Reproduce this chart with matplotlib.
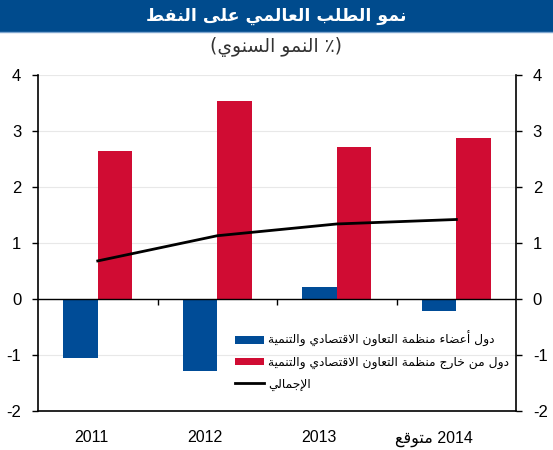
import matplotlib
matplotlib.use('Agg')
import matplotlib.pyplot as plt
import matplotlib.transforms as mtransforms
from matplotlib.patches import Rectangle
from matplotlib.lines import Line2D
import numpy as np

# Datos
years = ['2011', '2012', '2013', '2014']
oecd = [-1.05, -1.29, 0.21, -0.21]
non_oecd = [2.64, 3.54, 2.71, 2.87]
total = [0.68, 1.13, 1.34, 1.42]

title_ar = 'نمو الطلب العالمي على النفط'
subtitle_ar = 'النمو السنوي'
label_oecd = 'دول أعضاء منظمة التعاون الاقتصادي والتنمية'
label_non = 'دول من خارج منظمة التعاون الاقتصادي والتنمية'
label_total = 'الإجمالي'
forecast_ar = 'متوقع'

# Formas de presentacion arabes (aislada, final, inicial, medial)
FORMS = {
    'ء': (0xFE80, 1), 'آ': (0xFE81, 2), 'أ': (0xFE83, 2), 'ؤ': (0xFE85, 2), 'إ': (0xFE87, 2),
    'ئ': (0xFE89, 4), 'ا': (0xFE8D, 2), 'ب': (0xFE8F, 4), 'ة': (0xFE93, 2), 'ت': (0xFE95, 4),
    'ث': (0xFE99, 4), 'ج': (0xFE9D, 4), 'ح': (0xFEA1, 4), 'خ': (0xFEA5, 4), 'د': (0xFEA9, 2),
    'ذ': (0xFEAB, 2), 'ر': (0xFEAD, 2), 'ز': (0xFEAF, 2), 'س': (0xFEB1, 4), 'ش': (0xFEB5, 4),
    'ص': (0xFEB9, 4), 'ض': (0xFEBD, 4), 'ط': (0xFEC1, 4), 'ظ': (0xFEC5, 4), 'ع': (0xFEC9, 4),
    'غ': (0xFECD, 4), 'ف': (0xFED1, 4), 'ق': (0xFED5, 4), 'ك': (0xFED9, 4), 'ل': (0xFEDD, 4),
    'م': (0xFEE1, 4), 'ن': (0xFEE5, 4), 'ه': (0xFEE9, 4), 'و': (0xFEED, 2), 'ى': (0xFEEF, 2),
    'ي': (0xFEF1, 4),
}
LAM_ALEF = {'آ': 0xFEF5, 'أ': 0xFEF7, 'إ': 0xFEF9, 'ا': 0xFEFB}


def shape(text):
    units = []
    i = 0
    while i < len(text):
        c = text[i]
        if c == 'ل' and i + 1 < len(text) and text[i + 1] in LAM_ALEF:
            units.append((LAM_ALEF[text[i + 1]], 2))
            i += 2
        elif c in FORMS:
            units.append(FORMS[c])
            i += 1
        else:
            units.append((c, 0))
            i += 1
    out = []
    for k, (base, n) in enumerate(units):
        if n == 0:
            out.append(base)
            continue
        prev = k > 0 and units[k - 1][1] == 4
        nxt = n == 4 and k + 1 < len(units) and units[k + 1][1] >= 2
        if n == 1:
            code = base
        elif n == 2:
            code = base + 1 if prev else base
        else:
            if prev and nxt:
                code = base + 3
            elif prev:
                code = base + 1
            elif nxt:
                code = base + 2
            else:
                code = base
        out.append(chr(code))
    # orden visual (derecha a izquierda)
    return ''.join(out)[::-1]


plt.rcParams['font.family'] = ['Liberation Sans', 'DejaVu Sans']
plt.rcParams['axes.unicode_minus'] = False

blue = '#004C97'
red = '#D00C33'
navy = '#004B8D'

fig = plt.figure(figsize=(5.53, 4.5), dpi=100)
ax = fig.add_axes([0.0687, 0.0867, 0.8646, 0.7466])

# Barra del titulo
fig.patches.append(Rectangle((0, 0.929), 1, 0.071, transform=fig.transFigure,
                             facecolor=navy, edgecolor='none', zorder=0))
fig.lines.append(Line2D([0, 1], [0.929, 0.929], transform=fig.transFigure,
                        color='#7FA6CF', linewidth=1))
fig.text(0.5, 0.965, shape(title_ar), color='white', fontsize=12.5, fontweight='bold',
         ha='center', va='center', family=['DejaVu Sans'])
fig.text(0.5, 0.895, '(' + shape(subtitle_ar) + ' ٪)', color='#333333', fontsize=13.5,
         ha='center', va='center', family=['DejaVu Sans'])

x = np.arange(len(years))
w = 0.29
b1 = ax.bar(x - w / 2, oecd, w, color=blue, zorder=3)
b2 = ax.bar(x + w / 2, non_oecd, w, color=red, zorder=3)
l1, = ax.plot(x, total, color='black', linewidth=2, zorder=4)

ax.axhline(0, color='black', linewidth=1, zorder=5)
ax.vlines([0.5, 1.5, 2.5], -0.1, 0, color='black', linewidth=1, zorder=5)

ax.set_xlim(-0.5, 3.5)
ax.set_ylim(-2, 4)
ax.set_yticks(np.arange(-2, 5, 1))
ax.grid(axis='y', color='#E8E8E8', linewidth=0.8, zorder=0)

ax.set_xticks(x)
xlabels = years[:3] + [shape(forecast_ar) + ' ' + years[3]]
ax.set_xticklabels(xlabels, fontsize=11.5)
ax.tick_params(axis='x', length=0, pad=14)
# etiquetas ligeramente corridas a la izquierda como en el original
for lab, dx in zip(ax.get_xticklabels(), [-6, -12, -18, -22]):
    lab.set_transform(lab.get_transform() +
                      mtransforms.ScaledTranslation(dx / 100, 0, fig.dpi_scale_trans))
ax.tick_params(axis='y', direction='out', length=4, labelsize=12, right=True,
               labelright=True, width=1, pad=8)

ax.spines['top'].set_visible(False)
for s in ['left', 'right', 'bottom']:
    ax.spines[s].set_linewidth(1.2)

leg = ax.legend([b1, b2, l1], [shape(label_oecd), shape(label_non), shape(label_total)],
                loc='upper left', bbox_to_anchor=(0.39, 0.27), frameon=False,
                handlelength=2.3, handleheight=0.6, labelspacing=0.7,
                handletextpad=0.4, prop={'family': ['DejaVu Sans'], 'size': 8.8})

fig.savefig('out.png', dpi=100)
